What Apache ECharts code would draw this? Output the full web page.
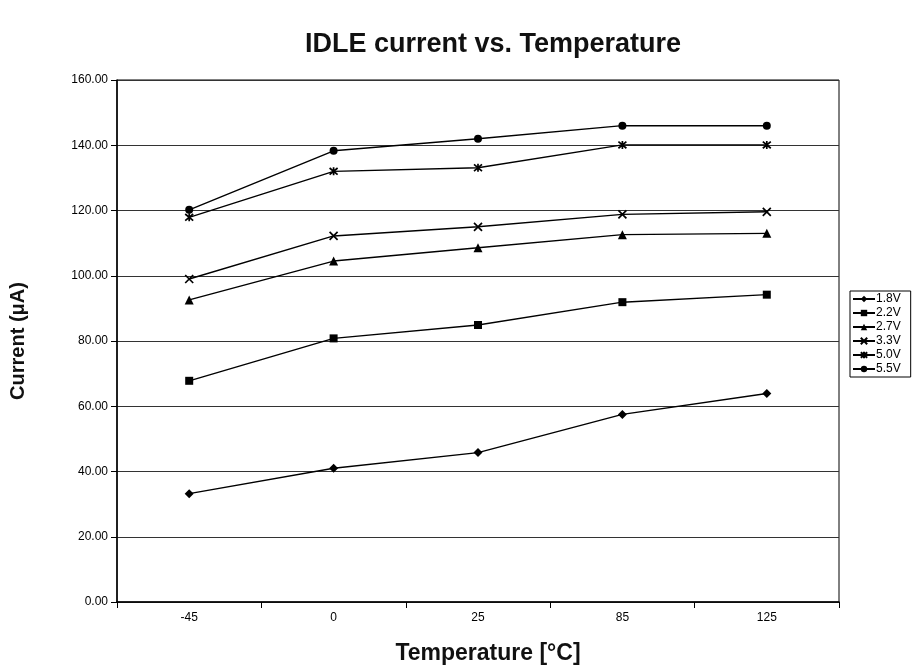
<!DOCTYPE html>
<html>
<head>
<meta charset="utf-8">
<script src="https://cdn.jsdelivr.net/npm/echarts@6/dist/echarts.min.js"></script>
<style>html,body{margin:0;padding:0;background:#fff}#c{width:918px;height:670px}</style>
</head>
<body>
<div id="c"></div>
<script>
const categories = ['-45', '0', '25', '85', '125'];
const seriesNames = ['1.8V', '2.2V', '2.7V', '3.3V', '5.0V', '5.5V'];
const v18 = [33.2, 41.0, 45.8, 57.5, 63.9];
const v22 = [67.8, 80.8, 84.9, 91.9, 94.2];
const v27 = [92.6, 104.5, 108.6, 112.6, 113.0];
const v33 = [99.0, 112.2, 115.0, 118.8, 119.6];
const v50 = [117.9, 132.0, 133.1, 140.1, 140.1];
const v55 = [120.2, 138.3, 142.0, 146.0, 146.0];
const yTicks = [0, 20, 40, 60, 80, 100, 120, 140, 160];

const FONT = '"Liberation Sans", Arial, sans-serif';
const X_PATH = 'path://M0,0L10,10M10,0L0,10';
const AST_PATH = 'path://M0,0L10,10M10,0L0,10M5,-1L5,11';

const values = [v18, v22, v27, v33, v50, v55];
const symbols = ['diamond', 'rect', 'triangle', X_PATH, AST_PATH, 'circle'];
const sizes = [9, 8, 9, 8, 8, 8];
const stroked = [false, false, false, true, true, false];

const series = seriesNames.map((n, i) => ({
  name: n,
  type: 'line',
  data: values[i],
  symbol: symbols[i],
  symbolSize: sizes[i],
  showAllSymbol: true,
  lineStyle: { color: '#000', width: 1.4 },
  itemStyle: stroked[i]
    ? { color: 'rgba(0,0,0,0)', borderColor: '#000', borderWidth: 1.7 }
    : { color: '#000', borderColor: '#000', borderWidth: 0 },
  emphasis: { disabled: true },
  animation: false
}));

const chart = echarts.init(document.getElementById('c'), null, { renderer: 'canvas' });
chart.setOption({
  animation: false,
  backgroundColor: '#fff',
  title: {
    text: 'IDLE current vs. Temperature',
    left: 300, top: 26,
    textStyle: { fontFamily: FONT, fontSize: 27, fontWeight: 'bold', color: '#111' }
  },
  legend: {
    orient: 'vertical',
    left: 850, top: 291,
    itemWidth: 22, itemHeight: 8, itemGap: 2,
    padding: [2, 10, 2, 2],
    borderColor: '#000', borderWidth: 1,
    textStyle: { fontFamily: FONT, fontSize: 12, color: '#000', padding: [0, 0, 0, -4] },
    data: seriesNames
  },
  grid: {
    left: 117, right: 79, top: 80, bottom: 68,
    show: true, borderColor: '#000', borderWidth: 1, backgroundColor: '#fff'
  },
  xAxis: {
    type: 'category',
    data: categories,
    boundaryGap: true,
    name: 'Temperature [°C]',
    nameLocation: 'middle',
    nameGap: 40,
    nameTextStyle: { fontFamily: FONT, fontSize: 23, fontWeight: 'bold', color: '#111',
      padding: [0, 0, 0, 20] },
    axisLine: { lineStyle: { color: '#000', width: 1.5 } },
    axisTick: { show: true, alignWithLabel: false, length: 6, lineStyle: { color: '#000' } },
    axisLabel: { fontFamily: FONT, fontSize: 12, color: '#000', margin: 10 }
  },
  yAxis: {
    type: 'value',
    min: yTicks[0], max: yTicks[yTicks.length - 1], interval: 20,
    name: 'Current (μA)',
    nameLocation: 'middle',
    nameGap: 89,
    nameTextStyle: { fontFamily: FONT, fontSize: 20, fontWeight: 'bold', color: '#111' },
    axisLine: { show: true, lineStyle: { color: '#000', width: 1.5 } },
    axisTick: { show: true, length: 6, lineStyle: { color: '#000' } },
    axisLabel: { fontFamily: FONT, fontSize: 12, color: '#000', margin: 9,
      formatter: v => v.toFixed(2) },
    splitLine: { show: true, lineStyle: { color: '#333', width: 1 } }
  },
  series: series
});
</script>
</body>
</html>
